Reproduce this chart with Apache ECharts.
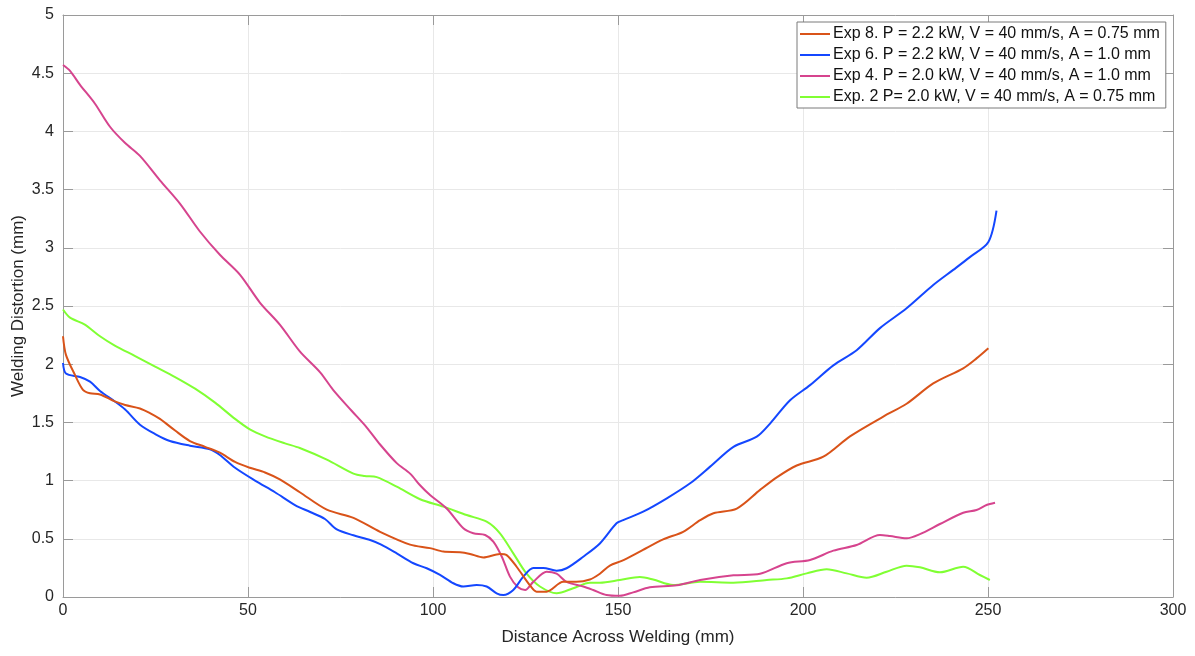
<!DOCTYPE html>
<html>
<head>
<meta charset="utf-8">
<style>
  html, body { margin: 0; padding: 0; background: #fff; }
  #chart { width: 1195px; height: 656px; }
</style>
<script src="https://cdn.jsdelivr.net/npm/echarts@6/dist/echarts.min.js"></script>
</head>
<body>
<div id="chart"></div>
<script>
// Series names (legend order)
const seriesNames = [
  'Exp 8. P = 2.2 kW, V = 40 mm/s, A = 0.75 mm',
  'Exp 6. P = 2.2 kW, V = 40 mm/s, A = 1.0 mm',
  'Exp 4. P = 2.0 kW, V = 40 mm/s, A = 1.0 mm',
  'Exp. 2 P= 2.0 kW, V = 40 mm/s, A = 0.75 mm'
];
const seriesColors = ['#d95319', '#1447ff', '#d6448e', '#80ff33'];

// Distance (mm), distortion (mm)
const exp8 = [[0,2.24],[0.8,2.08],[3.2,1.91],[5.4,1.78],[7.3,1.75],[10,1.74],[14,1.68],[16.8,1.65],[20.8,1.62],[23.5,1.58],[26.2,1.53],[30.3,1.43],[34.3,1.34],[38.4,1.29],[42.4,1.24],[46.5,1.16],[50.5,1.11],[54.6,1.07],[58.6,1.01],[64,0.90],[71.3,0.75],[78.5,0.68],[85.7,0.56],[93.8,0.45],[99.2,0.42],[102.8,0.39],[107.3,0.385],[110,0.37],[113.6,0.34],[118.1,0.37],[119.9,0.36],[122.6,0.26],[126.2,0.10],[128,0.046],[130.7,0.046],[135.2,0.13],[138.8,0.13],[142.4,0.15],[145.1,0.2],[147.8,0.27],[151,0.31],[155.9,0.39],[162.2,0.495],[167.6,0.56],[172.2,0.66],[175.8,0.72],[182.1,0.76],[188.4,0.92],[193,1.03],[198.3,1.13],[205.5,1.205],[212.7,1.38],[221.7,1.55],[228,1.66],[235.2,1.835],[243.3,1.965],[246.9,2.05],[250.1,2.137]];

const exp6 = [[0,2.01],[0.8,1.92],[4.6,1.89],[7.3,1.85],[10,1.77],[14,1.68],[16.8,1.61],[20.8,1.48],[24.9,1.40],[28.9,1.34],[34.3,1.30],[39.7,1.27],[42.4,1.22],[46.5,1.11],[51.9,1.00],[57.3,0.90],[62.7,0.79],[66.8,0.73],[70.8,0.67],[74,0.58],[78.5,0.53],[83,0.49],[86,0.45],[90.2,0.375],[94.7,0.29],[98.3,0.247],[101.9,0.19],[105.5,0.118],[108.2,0.09],[111.8,0.103],[114.5,0.09],[117.2,0.032],[119,0.017],[121.7,0.06],[124.4,0.175],[127.1,0.25],[129.8,0.25],[133.4,0.226],[136.1,0.247],[140.6,0.346],[145.1,0.46],[149.6,0.633],[151.4,0.66],[156.8,0.733],[163.2,0.848],[169.5,0.977],[174.9,1.12],[181.2,1.29],[187.5,1.377],[191.1,1.49],[196.5,1.69],[201.9,1.82],[208.2,1.99],[214.5,2.12],[220.8,2.31],[228,2.48],[235.2,2.68],[240.6,2.81],[245.1,2.92],[250.1,3.05],[252.3,3.32]];

const exp4 = [[0,4.57],[1.9,4.52],[4.6,4.40],[8.6,4.24],[12.7,4.04],[16.8,3.90],[20.8,3.79],[26.2,3.58],[31.6,3.38],[37,3.14],[42.4,2.94],[47.8,2.77],[53.2,2.53],[58.6,2.34],[64,2.11],[69.5,1.93],[73,1.78],[78,1.60],[82,1.46],[85.7,1.31],[90.2,1.15],[93.8,1.06],[96.5,0.96],[99.2,0.876],[103.7,0.76],[108.2,0.59],[110.9,0.547],[114.1,0.533],[116.3,0.475],[118.6,0.346],[120.8,0.175],[123,0.083],[124.9,0.06],[127.1,0.13],[130.7,0.217],[133.4,0.2],[136.1,0.13],[140.6,0.09],[143.3,0.06],[146.9,0.017],[150.5,0.01],[154.1,0.04],[158.6,0.083],[165.9,0.1],[172.2,0.146],[181.2,0.186],[188.4,0.2],[195.6,0.29],[201.9,0.318],[208.2,0.398],[214.5,0.447],[220.8,0.533],[223.5,0.524],[228,0.504],[231.6,0.54],[237,0.627],[243.3,0.724],[246.9,0.747],[249.6,0.79],[251.9,0.81]];

const exp2 = [[0,2.47],[1.9,2.40],[5.9,2.34],[10,2.24],[14,2.16],[19.5,2.07],[24.9,1.98],[30.3,1.89],[35.7,1.79],[41.1,1.67],[46.5,1.53],[50.5,1.44],[54.6,1.38],[60,1.32],[64,1.28],[71.3,1.18],[78.5,1.06],[81.5,1.04],[84.8,1.03],[90.2,0.948],[96.5,0.84],[102.8,0.776],[109.1,0.704],[114.5,0.647],[118.1,0.547],[121.7,0.375],[125.3,0.2],[128.9,0.09],[133.4,0.032],[137.9,0.075],[142.4,0.123],[145.1,0.123],[150.5,0.146],[155.9,0.172],[159.5,0.15],[164.9,0.103],[172.2,0.13],[181.2,0.123],[190.2,0.146],[195.6,0.16],[201,0.203],[206.4,0.238],[211.8,0.203],[217.2,0.166],[222.6,0.217],[228,0.269],[231.6,0.255],[237,0.212],[243.3,0.26],[247.8,0.189],[250.5,0.146]];

const seriesData = [exp8, exp6, exp4, exp2];

// Axis ranges and titles
const xRange = { min: 0, max: 300, interval: 50 };
const yRange = { min: 0, max: 5, interval: 0.5 };
const xTitle = 'Distance Across Welding (mm)';
const yTitle = 'Welding Distortion (mm)';

const FONT = '"Liberation Sans", Arial, Helvetica, sans-serif';
const TEXT = '#262626';
const AXIS = '#9a9a9a';
const GRIDLINE = '#e8e8e8';

const chart = echarts.init(document.getElementById('chart'), null, { renderer: 'canvas' });

// Plain axis used to close the plot box on the top and right sides
function boxAxis(base, pos) {
  return Object.assign({
    type: 'value',
    position: pos,
    axisLine: { show: true, onZero: false, lineStyle: { color: AXIS, width: 1 } },
    axisTick: { show: true, inside: true, length: 10, lineStyle: { color: AXIS } },
    axisLabel: { show: false },
    splitLine: { show: false }
  }, base);
}

const option = {
  animation: false,
  backgroundColor: '#ffffff',
  grid: { left: 63, right: 22, top: 15, bottom: 59, containLabel: false, outerBoundsMode: 'none' },
  legend: {
    orient: 'vertical',
    left: 797,
    top: 22,
    data: seriesNames,
    icon: 'rect',
    itemWidth: 30,
    itemHeight: 2,
    itemGap: 5,
    padding: [4, 6, 3, 3],
    backgroundColor: '#ffffff',
    borderColor: '#7a7a7a',
    borderWidth: 1,
    borderRadius: 0,
    textStyle: { fontFamily: FONT, fontSize: 16, color: '#111', lineHeight: 16, padding: [0, 0, 0, -2] }
  },
  xAxis: [
    {
      type: 'value',
      min: xRange.min, max: xRange.max, interval: xRange.interval,
      position: 'bottom',
      name: xTitle,
      nameLocation: 'middle',
      nameGap: 32,
      nameMoveOverlap: false,
      nameTextStyle: { fontFamily: FONT, fontSize: 17, color: TEXT },
      axisLine: { show: true, onZero: false, lineStyle: { color: AXIS, width: 1 } },
      axisTick: { show: true, inside: true, length: 10, lineStyle: { color: AXIS } },
      axisLabel: { fontFamily: FONT, fontSize: 16, color: TEXT, margin: 6 },
      splitLine: { show: true, lineStyle: { color: GRIDLINE, width: 1 } }
    },
    boxAxis({ min: xRange.min, max: xRange.max, interval: xRange.interval }, 'top')
  ],
  yAxis: [
    {
      type: 'value',
      min: yRange.min, max: yRange.max, interval: yRange.interval,
      position: 'left',
      name: yTitle,
      nameLocation: 'middle',
      nameGap: 36,
      nameMoveOverlap: false,
      nameRotate: 90,
      nameTextStyle: { fontFamily: FONT, fontSize: 17, color: TEXT },
      axisLine: { show: true, onZero: false, lineStyle: { color: AXIS, width: 1 } },
      axisTick: { show: true, inside: true, length: 10, lineStyle: { color: AXIS } },
      axisLabel: { fontFamily: FONT, fontSize: 16, color: TEXT, margin: 9, formatter: v => String(v) },
      splitLine: { show: true, lineStyle: { color: GRIDLINE, width: 1 } }
    },
    boxAxis({ min: yRange.min, max: yRange.max, interval: yRange.interval }, 'right')
  ],
  series: seriesData.map((d, i) => ({
    name: seriesNames[i],
    type: 'line',
    data: d,
    showSymbol: false,
    symbol: 'none',
    smooth: 0.3,
    lineStyle: { color: seriesColors[i], width: 2 },
    itemStyle: { color: seriesColors[i] },
    z: 10 - i
  }))
};

chart.setOption(option);
</script>
</body>
</html>
